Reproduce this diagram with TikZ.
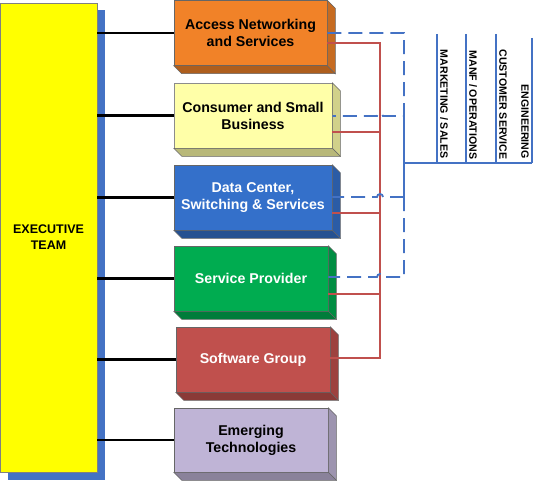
\documentclass[tikz,border=0pt]{standalone}
\usepackage{fontspec}
\setmainfont{Liberation Sans}
\usetikzlibrary{calc}
\definecolor{execyellow}{RGB}{255,255,0}
\definecolor{shadowblue}{RGB}{68,114,196}
\definecolor{accorange}{RGB}{241,130,40}
\definecolor{conyellow}{RGB}{255,255,168}
\definecolor{dcblue}{RGB}{52,112,202}
\definecolor{spgreen}{RGB}{0,172,80}
\definecolor{swred}{RGB}{192,80,77}
\definecolor{emlav}{RGB}{191,180,214}
\definecolor{lineblue}{RGB}{68,114,196}
\definecolor{linered}{RGB}{192,80,77}
\newcommand\boxsides[2]{%
  \filldraw[fill=#2!82!black, draw=black!60, line width=0.5pt]
    (#1.north east) -- ++(8,8) -- ($(#1.south east)+(8,8)$) -- (#1.south east) -- cycle;
  \filldraw[fill=#2!72!black, draw=black!60, line width=0.5pt]
    (#1.south west) -- ++(8,8) -- ($(#1.south east)+(8,8)$) -- (#1.south east) -- cycle;}
\tikzset{
  unit/.style={draw=black!60, line width=0.5pt, minimum height=65pt, inner sep=0pt,
    align=center, font=\bfseries\fontsize{14.2}{17}\selectfont},
  exec/.style={draw=black!50, line width=0.5pt, fill=execyellow, inner sep=0pt,
    minimum width=97pt, minimum height=469pt, align=center,
    font=\bfseries\fontsize{12.5}{16}\selectfont},
  conn/.style={line width=2.4pt, black},
  bluedash/.style={line width=1.8pt, lineblue, dash pattern=on 14pt off 7pt},
  bluesolid/.style={line width=1.6pt, lineblue},
  redline/.style={line width=1.5pt, linered},
  funclab/.style={rotate=-90, anchor=east, inner sep=0pt,
    font=\bfseries\fontsize{10.6}{12}\selectfont},
  hop/.style={}
}
\begin{document}
\begin{tikzpicture}[x=1pt,y=-1pt]
\useasboundingbox (0,0) rectangle (534,481);
% executive team with shadow
\fill[shadowblue] (8,10) rectangle (105,480);
\node[exec] (ex) at (48.5,237.5) {EXECUTIVE\\TEAM};
% units
\node[unit, fill=accorange, minimum width=153pt] (acc) at (250.5,33) {Access Networking\\and Services};
\boxsides{acc}{accorange}
\node[unit, fill=conyellow, draw=black!45, minimum width=158pt] (con) at (253,115.5) {Consumer and Small\\Business};
\boxsides{con}{conyellow}
\node[unit, fill=dcblue, text=white, minimum width=158pt] (dc) at (253,197.5) {Data Center,\\Switching \& Services};
\boxsides{dc}{dcblue}
\node[unit, fill=spgreen, text=white, minimum width=154pt] (sp) at (251,278.5) {Service Provider};
\boxsides{sp}{spgreen}
\node[unit, fill=swred, text=white, minimum width=154pt] (sw) at (253,359.5) {Software Group};
\boxsides{sw}{swred}
\node[unit, fill=emlav, minimum width=154pt, minimum height=64pt] (em) at (251,440) {Emerging\\Technologies};
\boxsides{em}{emlav}
% executive connectors
\foreach \u in {acc,con,dc,sp,sw,em}
  \draw[conn] (ex.east |- \u.west) -- (\u.west);
% junction coordinates
\coordinate (rtop) at (380,43);
\coordinate (rbot) at (380,358);
\coordinate (btop) at (404,33);
\coordinate (bcon) at (404,116);
\coordinate (bmid) at (404,163);
\coordinate (bdc) at (404,197);
\coordinate (bsp) at (404,277);
% red lines
\draw[redline] (acc.east |- rtop) -- (rtop) -- (rbot) -- (sw.east |- rbot);
\draw[redline] (con.east |- 0,132) -- (380,132);
\draw[redline] (dc.east |- 0,213) -- (380,213);
\draw[redline] (sp.east |- 0,294) -- (380,294);
% blue dashed lines with hops
\draw[bluedash] (acc.east |- btop) -- (btop) -- (bcon) -- (383,116)
  arc[start angle=0, end angle=180, radius=3pt] -- (con.east |- bcon);
\draw[bluedash] (bdc) -- (383,197)
  arc[start angle=0, end angle=180, radius=3pt] -- (dc.east |- bdc);
\draw[bluedash] (bdc) -- (bsp) -- (383,277)
  arc[start angle=0, end angle=180, radius=3pt] -- (sp.east |- bsp);
% blue solid functional lines
\coordinate (f1t) at (437,34);
\coordinate (f2t) at (466,34);
\coordinate (f3t) at (496,34);
\coordinate (f4t) at (532,38);
\coordinate (fend) at (532,163);
\draw[bluesolid] (bcon) -- (bdc);
\draw[bluesolid] (bmid) -- (fend);
\draw[bluesolid] (f1t) -- (f1t |- bmid);
\draw[bluesolid] (f2t) -- (f2t |- bmid);
\draw[bluesolid] (f3t) -- (f3t |- bmid);
\draw[bluesolid] (f4t) -- (fend);
% function labels
\node[funclab] (mkt) at (444,158.5) {MARKETING / SALES};
\node[funclab] (ops) at (473,159.5) {MANF / OPERATIONS};
\node[funclab] (cs) at (503,159.5) {CUSTOMER SERVICE};
\node[funclab] (eng) at (525,159) {ENGINEERING};
\end{tikzpicture}
\end{document}
